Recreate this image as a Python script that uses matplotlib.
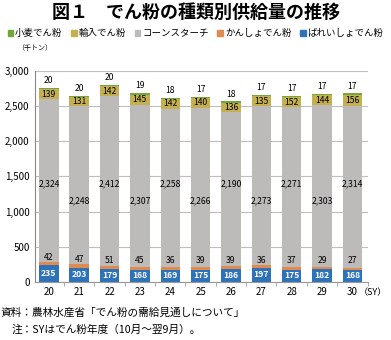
import matplotlib
matplotlib.use('Agg')
import matplotlib.pyplot as plt
from matplotlib.patches import Patch

plt.rcParams['font.family'] = ['Noto Sans CJK JP', 'DejaVu Sans']

years = ['20', '21', '22', '23', '24', '25', '26', '27', '28', '29', '30']
wheat = [20, 20, 20, 19, 18, 17, 18, 17, 17, 17, 17]          # 小麦でん粉
imported = [139, 131, 142, 145, 142, 140, 136, 135, 152, 144, 156]  # 輸入でん粉
corn = [2324, 2248, 2412, 2307, 2258, 2266, 2190, 2273, 2271, 2303, 2314]  # コーンスターチ
kansho = [42, 47, 51, 45, 36, 39, 39, 36, 37, 29, 27]        # かんしょでん粉
bareisho = [235, 203, 179, 168, 169, 175, 186, 197, 175, 182, 168]  # ばれいしょでん粉

names = ['小麦でん粉', '輸入でん粉', 'コーンスターチ', 'かんしょでん粉', 'ばれいしょでん粉']
colors = ['#70a83c', '#c4b050', '#bdbaba', '#e08a50', '#2e72b8']

fig = plt.figure(figsize=(3.91, 3.40), dpi=100)
ax = fig.add_axes([0.09, 0.171, 0.85, 0.62])

x = list(range(len(years)))
w = 0.64
base = [0] * len(x)
stack = [(bareisho, colors[4]), (kansho, colors[3]), (corn, colors[2]),
         (imported, colors[1]), (wheat, colors[0])]
bottoms = []
for vals, c in stack:
    ax.bar(x, vals, w, bottom=base, color=c, zorder=2)
    bottoms.append(list(base))
    base = [b + v for b, v in zip(base, vals)]

fs = 6.2
for i in x:
    # ばれいしょ
    ax.text(i, bareisho[i] / 2, str(bareisho[i]), ha='center', va='center',
            fontsize=fs, color='white', fontweight='bold', zorder=3)
    # かんしょ
    ktop = bareisho[i] + kansho[i]
    ax.text(i, max(ktop + 70, 310), str(kansho[i]), ha='center', va='center',
            fontsize=fs, zorder=3)
    # コーンスターチ
    cy = 1390 if i % 2 == 0 else 1150
    ax.text(i, cy, f'{corn[i]:,}', ha='center', va='center', fontsize=fs, zorder=3)
    # 輸入
    ib = bottoms[3][i]
    ax.text(i, ib + imported[i] / 2, str(imported[i]), ha='center', va='center',
            fontsize=fs, zorder=3)
    # 小麦
    ax.annotate(str(wheat[i]), (i, base[i]), xytext=(0, 2), textcoords='offset points',
                ha='center', va='bottom', fontsize=fs, zorder=3)

ax.set_ylim(0, 3000)
ax.set_xlim(-0.45, 10.5)
ax.set_yticks(range(0, 3001, 500))
ax.set_yticklabels([f'{v:,}' for v in range(0, 3001, 500)])
ax.set_xticks(x)
ax.set_xticklabels(years)
ax.set_xticks([i + 0.5 for i in x], minor=True)
ax.tick_params(axis='both', which='major', length=0, labelsize=7, pad=4)
ax.tick_params(axis='x', which='minor', length=3, color='#999999')
ax.grid(axis='y', color='#bfbfbf', linewidth=0.8, zorder=0)
for s in ['top', 'right']:
    ax.spines[s].set_visible(False)
ax.spines['left'].set_color('#888888')
ax.spines['bottom'].set_color('#999999')

fig.text(0.99, 0.139, '（SY）', fontsize=6.5, ha='right', va='center')
fig.text(0.045, 0.86, '（千トン）', fontsize=5, ha='left', va='center')

fig.text(0.5, 0.962, '図１　でん粉の種類別供給量の推移', fontsize=13, fontweight='bold',
         ha='center', va='center')

handles = [Patch(color=c) for c in colors]
fig.legend(handles, names, loc='center', bbox_to_anchor=(0.5, 0.902), ncol=5,
           fontsize=6.8, frameon=False, handlelength=0.6, handleheight=0.6,
           handletextpad=0.2, columnspacing=0.9, borderaxespad=0, borderpad=0)

fig.text(0.0, 0.08, '資料：農林水産省「でん粉の需給見通しについて」', fontsize=7.7,
         ha='left', va='center')
fig.text(0.03, 0.03, '注：SYはでん粉年度（10月～翌9月）。', fontsize=7.7,
         ha='left', va='center')

fig.savefig('out.png', dpi=100)
